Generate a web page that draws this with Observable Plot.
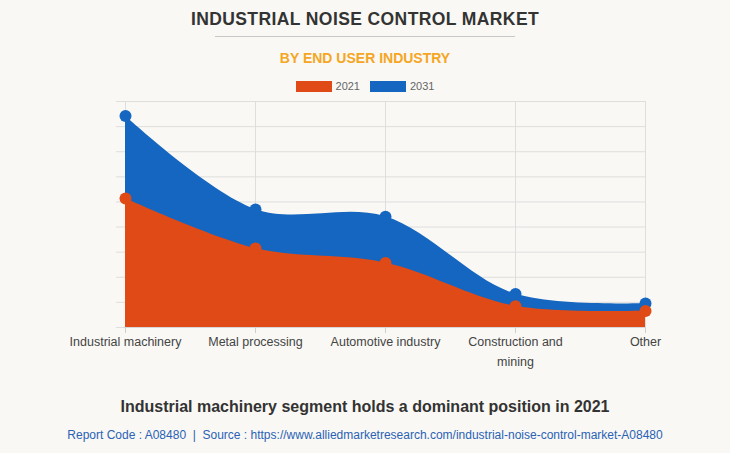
<!DOCTYPE html>
<html>
<head>
<meta charset="utf-8">
<script src="https://cdn.jsdelivr.net/npm/d3@7"></script>
<script src="https://cdn.jsdelivr.net/npm/@observablehq/plot@0.6"></script>
<style>
  html, body { margin: 0; padding: 0; background: #f9f8f4; }
  body { width: 730px; height: 453px; overflow: hidden; font-family: "Liberation Sans", Arial, sans-serif; position: relative; }
  #title { position: absolute; top: 9px; left: 0; width: 730px; text-align: center; font-size: 17.5px; font-weight: bold; color: #333; letter-spacing: 0.4px; }
  #rule { position: absolute; top: 36px; left: 215px; width: 300px; height: 1px; background: #c8c8c8; }
  #subtitle { position: absolute; top: 50px; left: 0; width: 730px; text-align: center; font-size: 14px; font-weight: bold; color: #f5a623; }
  #legend { position: absolute; top: 80px; left: 0; width: 730px; display: flex; justify-content: center; align-items: center; font-size: 11px; color: #666; }
  .sw { display: inline-block; width: 36px; height: 11px; margin-right: 4px; }
  .item { display: flex; align-items: center; margin: 0 5px; }
  #chart { position: absolute; top: 92px; left: 0; }
  #caption { position: absolute; top: 398px; left: 0; width: 730px; text-align: center; font-size: 16px; font-weight: bold; color: #333; }
  #source { position: absolute; top: 428px; left: 0; width: 730px; text-align: center; font-size: 12px; color: #2a62b5; }
</style>
</head>
<body>
<div id="title">INDUSTRIAL NOISE CONTROL MARKET</div>
<div id="rule"></div>
<div id="subtitle">BY END USER INDUSTRY</div>
<div id="legend"></div>
<div id="chart"></div>
<div id="caption">Industrial machinery segment holds a dominant position in 2021</div>
<div id="source">Report Code : A08480 &nbsp;|&nbsp; Source : https://www.alliedmarketresearch.com/industrial-noise-control-market-A08480</div>
<script>
const categories = ["Industrial machinery", "Metal processing", "Automotive industry", "Construction and mining", "Other"];
const tickLabels = ["Industrial machinery", "Metal processing", "Automotive industry", "Construction and\nmining", "Other"];
const values2021 = [5.14, 3.15, 2.57, 0.85, 0.66];
const values2031 = [8.42, 4.70, 4.41, 1.33, 0.96];
const seriesNames = ["2021", "2031"];
const seriesColors = ["#df4a16", "#1466c0"];
const yTicks = [0, 1, 2, 3, 4, 5, 6, 7, 8, 9];

const d2021 = categories.map((c, i) => ({category: c, value: values2021[i]}));
const d2031 = categories.map((c, i) => ({category: c, value: values2031[i]}));
const labelOf = new Map(categories.map((c, i) => [c, tickLabels[i]]));

const legend = document.getElementById("legend");
seriesNames.forEach((n, i) => {
  const it = document.createElement("div");
  it.className = "item";
  it.innerHTML = `<span class="sw" style="background:${seriesColors[i]}"></span>${n}`;
  legend.appendChild(it);
});

const plot = Plot.plot({
  width: 730,
  height: 290,
  marginLeft: 124,
  marginRight: 84,
  marginTop: 9,
  marginBottom: 55,
  style: {background: "transparent", fontFamily: "Liberation Sans, Arial, sans-serif"},
  x: {type: "point", domain: categories, padding: 0},
  y: {domain: [0, 9]},
  marks: [
    Plot.gridY(yTicks, {stroke: "#dedede", strokeOpacity: 1}),
    Plot.gridX(categories, {stroke: "#dedede", strokeOpacity: 1}),
    Plot.axisY(yTicks, {tickFormat: () => "", tickSize: 8, stroke: "#dedede", strokeOpacity: 1, label: null}),
    Plot.areaY(d2031, {x: "category", y: "value", fill: seriesColors[1], curve: "catmull-rom"}),
    Plot.areaY(d2021, {x: "category", y: "value", fill: seriesColors[0], curve: "catmull-rom"}),
    Plot.dot(d2031, {x: "category", y: "value", fill: seriesColors[1], r: 6}),
    Plot.dot(d2021, {x: "category", y: "value", fill: seriesColors[0], r: 6}),
    Plot.axisX({tickFormat: d => labelOf.get(d), tickSize: 6, tickPadding: -1, stroke: "#cfcfcf", fill: "#444", fontSize: 12.5, lineHeight: 1.55, label: null}),
    Plot.ruleY([0], {stroke: "#d6d6d6"})
  ]
});
document.getElementById("chart").appendChild(plot);
</script>
</body>
</html>
